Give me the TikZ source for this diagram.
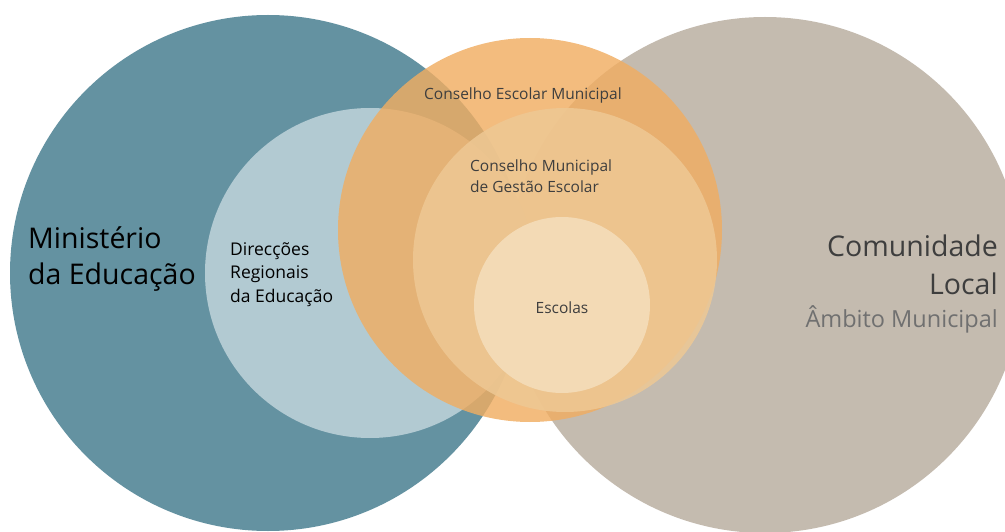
\documentclass[tikz,border=0pt]{standalone}
\usepackage{fontspec}
\setmainfont{Open Sans}
\usepackage{xcolor}
\usepackage{tikz}
\usetikzlibrary{positioning}

\definecolor{ministerio}{RGB}{100,146,161}
\definecolor{direccoes}{RGB}{178,202,210}
\definecolor{comunidade}{RGB}{196,187,175}
\definecolor{conselho}{RGB}{240,173,98}
\definecolor{gestao}{RGB}{238,200,148}
\definecolor{escolas}{RGB}{244,221,186}
\definecolor{textoescuro}{RGB}{62,62,62}
\definecolor{textocinza}{RGB}{112,112,112}

\begin{document}
\begin{tikzpicture}[x=1pt, y=-1pt,
    grande/.style={font=\fontsize{28.5}{36}\selectfont, inner sep=0pt},
    medio/.style={font=\fontsize{17.5}{23.5}\selectfont, inner sep=0pt, align=left},
    pequeno/.style={font=\fontsize{15.5}{21}\selectfont, inner sep=0pt, text=textoescuro}]
    \useasboundingbox (0,0) rectangle (1005,532);
    \clip (0,0) rectangle (1005,532);

    % Círculos de fundo
    \fill[ministerio] (268,273) circle (258);
    \fill[comunidade] (765,275) circle (258);
    \fill[direccoes] (370,273) circle (165);

    % Círculos do conselho (transparentes)
    \fill[conselho, opacity=0.82] (530,230) circle (192);
    \fill[gestao, opacity=0.85] (565,260) circle (152);
    \fill[escolas, opacity=0.9] (562,305) circle (88);

    % Textos (base = última linha)
    \node[grande, align=left, anchor=base west] (mined) at (28,284)
        {Ministério\\da Educação};
    \node[medio, anchor=base west] (dre) at (230,302)
        {Direcções\\Regionais\\da Educação};
    \node[pequeno, anchor=base west] (cem) at (424,100)
        {Conselho Escolar Municipal};
    \node[pequeno, align=left, anchor=base west] (cmge) at (470,193)
        {Conselho Municipal\\de Gestão Escolar};
    \node[pequeno, anchor=base] (esc) at (562,313) {Escolas};
    \node[font=\fontsize{28.5}{38}\selectfont, inner sep=0pt, align=right,
        anchor=base east, text=textoescuro] (comun) at (998,294)
        {Comunidade\\Local};
    \node[inner sep=0pt, anchor=base east, text=textocinza,
        font=\fontsize{23.5}{28}\selectfont] (ambito) at (998,327) {Âmbito Municipal};
\end{tikzpicture}
\end{document}
